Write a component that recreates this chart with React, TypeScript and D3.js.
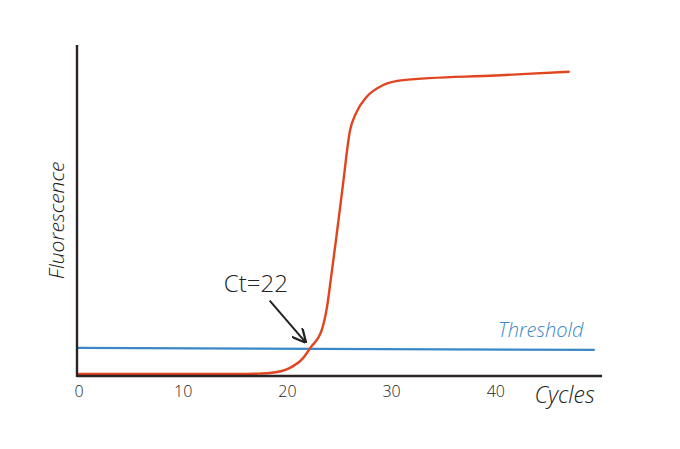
import { useEffect } from 'react';
import * as d3 from 'd3';

// amplification curve (cycle, fluorescence %)
const cycles = [0, 5, 10, 15, 17, 18.3, 20.2, 21.5, 22.2, 23.3, 23.8, 24.2, 24.7, 25.3, 26, 26.6, 27.6, 29.2, 31.1, 40, 47];
const fluorescence = [0.6, 0.6, 0.6, 0.6, 0.7, 0.9, 2.4, 5.4, 8.5, 13.9, 20.8, 30, 42, 57, 74, 79.5, 84.3, 87.9, 89.4, 90.8, 91.9];
const xTicks = [0, 10, 20, 30, 40];
const thresholdValue = 8.5;
const ctValue = 22;

const W = 680;
const H = 449;

export default function App() {
  useEffect(() => {
    document.body.style.margin = '0';
  }, []);

  const x = d3.scaleLinear().domain([0, 50]).range([79, 600]);
  const y = d3.scaleLinear().domain([0, 100]).range([376, 45]);

  const pts = cycles.map((c, i) => [c, fluorescence[i]] as [number, number]);
  const line = d3
    .line<[number, number]>()
    .x((d) => x(d[0]))
    .y((d) => y(d[1]))
    .curve(d3.curveMonotoneX);

  const font = "'Open Sans', 'DejaVu Sans', sans-serif";
  const ink = '#2b2222';
  const red = '#e0451f';
  const blue = '#3b88c9';

  const ctX = x(ctValue);
  const ctY = y(thresholdValue);

  return (
    <svg width={W} height={H} style={{ display: 'block', background: '#fff' }}>
      <defs>
        <marker id="arrow" viewBox="0 0 10 10" refX="9" refY="5" markerWidth="7" markerHeight="7" orient="auto">
          <path d="M0,0 L10,5 L0,10" fill="none" stroke="#222" strokeWidth="1.6" />
        </marker>
      </defs>

      {/* threshold */}
      <line x1={x(0) - 2} x2={x(49.5)} y1={y(thresholdValue)} y2={y(thresholdValue) + 2} stroke={blue} strokeWidth={2.2} />
      <text x={x(40.2)} y={y(thresholdValue) - 11} fill={blue} fontFamily={font} fontSize={20} fontStyle="italic" fontWeight={300}>
        Threshold
      </text>

      {/* curve */}
      <path d={line(pts) ?? ''} fill="none" stroke={red} strokeWidth={2.4} strokeLinecap="round" />

      {/* axes */}
      <line x1={x(0) - 2} x2={x(50.2)} y1={y(0)} y2={y(0)} stroke={ink} strokeWidth={2.6} />
      <line x1={x(0) - 2} x2={x(0) - 2} y1={y(0) + 1} y2={y(100)} stroke={ink} strokeWidth={2.4} />

      {xTicks.map((t) => (
        <text key={t} x={x(t)} y={y(0) + 21} textAnchor="middle" fontFamily={font} fontSize={16} fontWeight={300} fill="#222">
          {t}
        </text>
      ))}
      <text x={x(46.6)} y={y(0) + 27} textAnchor="middle" fontFamily={font} fontSize={23} fontStyle="italic" fontWeight={300} fill="#222">
        Cycles
      </text>
      <text
        transform={`translate(${x(0) - 15},${y(47)}) rotate(-90)`}
        textAnchor="middle"
        fontFamily={font}
        fontSize={21}
        fontStyle="italic"
        fontWeight={300}
        fill="#222"
      >
        Fluorescence
      </text>

      {/* Ct annotation */}
      <text x={x(13.9)} y={y(25.3)} fontFamily={font} fontSize={24} fontWeight={300} fill="#222">
        Ct=22
      </text>
      <line x1={x(18.3)} y1={y(22.8)} x2={ctX - 3} y2={ctY - 6} stroke="#222" strokeWidth={2} markerEnd="url(#arrow)" />
    </svg>
  );
}
